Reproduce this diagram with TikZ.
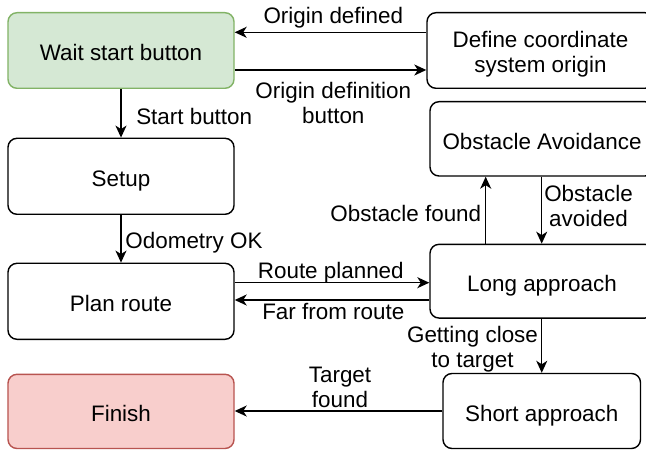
\documentclass[tikz,border=0pt]{standalone}
\usepackage{fontspec}
\setmainfont{Liberation Sans}
\usetikzlibrary{arrows.meta,calc}
\definecolor{startfill}{HTML}{D5E8D4}
\definecolor{startdraw}{HTML}{82B366}
\definecolor{endfill}{HTML}{F8CECC}
\definecolor{enddraw}{HTML}{B85450}
% two centred lines, baseline on the first one
\newcommand{\twolines}[2]{\begin{tabular}[t]{@{}c@{}}#1\\#2\end{tabular}}
\begin{document}
\begin{tikzpicture}[x=1bp,y=-1bp,
  state/.style={draw=black, line width=1.4bp, rounded corners=9bp, fill=white,
    inner sep=0pt, text height=21bp, text depth=0bp,
    font=\fontsize{22.5}{25}\selectfont},
  arr/.style={-{Stealth[length=12bp,width=11bp,inset=3.5bp]}, line width=1.4bp},
  lbl/.style={inner sep=0pt, anchor=base, font=\fontsize{22.5}{25}\selectfont}]
\useasboundingbox (0,0) rectangle (646,450);

% states (the right-hand column runs past the page edge)
\node[state, fill=startfill, draw=startdraw, minimum width=226bp, minimum height=75.6bp] (wait) at (121,50.5) {Wait start button};
\node[state, minimum width=227bp, minimum height=75.6bp, text height=0bp, text depth=6.4bp] (origin) at (540.5,50.5) {\twolines{Define coordinate}{system origin}};
\node[state, minimum width=226bp, minimum height=76bp] (setup) at (121,176.3) {Setup};
\node[state, minimum width=224bp, minimum height=74.3bp] (avoid) at (542,138.85) {Obstacle Avoidance};
\node[state, minimum width=226bp, minimum height=76bp] (plan) at (121,301.3) {Plan route};
\node[state, minimum width=224bp, minimum height=73.7bp] (long) at (542,281.2) {Long approach};
\node[state, fill=endfill, draw=enddraw, minimum width=226bp, minimum height=74.2bp] (finish) at (121,411.4) {Finish};
\node[state, minimum width=197.5bp, minimum height=75bp] (short) at (541.75,411) {Short approach};

% helper points on the borders
\coordinate (odA) at ($(origin.west)+(0,-18.2)$);
\coordinate (odB) at ($(origin.west)+(0,19.5)$);
\coordinate (rpA) at ($(plan.east)+(0,-18.6)$);
\coordinate (frA) at ($(long.west)+(0,18.8)$);
\coordinate (ofA) at ($(long.north)+(-56.3,0)$);
\coordinate (oaA) at ($(avoid.south)+(-0.3,0)$);

% transitions
\draw[arr] (odA) -- (odA -| wait.east);
\draw[arr] (odB -| wait.east) -- (odB);
\draw[arr] (wait.south) -- (setup.north);
\draw[arr] (setup.south) -- (plan.north);
\draw[arr] (rpA) -- (rpA -| long.west);
\draw[arr] (frA) -- (frA -| plan.east);
\draw[arr] (ofA) -- (ofA |- avoid.south);
\draw[arr] (oaA) -- (oaA |- long.north);
\draw[arr] (short.north |- long.south) -- (short.north);
\draw[arr] (short.west) -- (short.west -| finish.east);

% transition labels, placed on their first baseline
\node[lbl] (l1) at (333.3,23.3) {Origin defined};
\node[lbl] (l2) at (333.3,99) {\twolines{Origin definition}{button}};
\node[lbl] (l3) at (194.2,125) {Start button};
\node[lbl] (l4) at (194,248.3) {Odometry OK};
\node[lbl] (l5) at (405.8,221.7) {Obstacle found};
\node[lbl] (l6) at (588.5,201.7) {\twolines{Obstacle}{avoided}};
\node[lbl] (l7) at (330.8,278.3) {Route planned};
\node[lbl] (l8) at (333.3,320) {Far from route};
\node[lbl] (l9) at (472.5,342.3) {\twolines{Getting close}{to target}};
\node[lbl] (l10) at (340,382.7) {\twolines{Target}{found}};
\end{tikzpicture}
\end{document}
